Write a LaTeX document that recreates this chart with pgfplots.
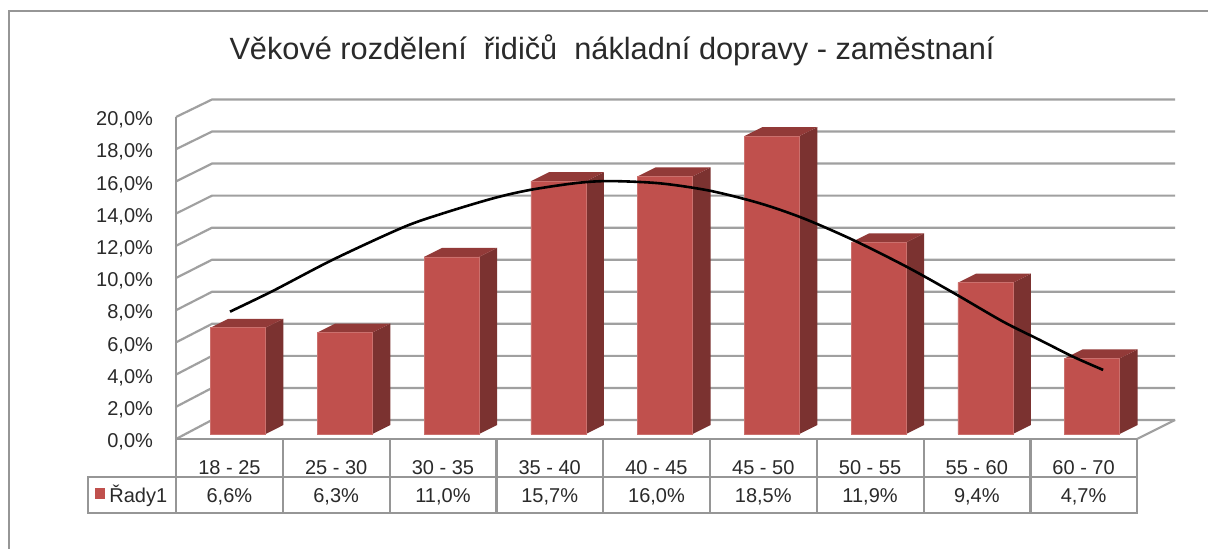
\documentclass[border=0pt]{standalone}
\usepackage{pgfplots}
\usepackage{pgfplotstable}
\usepackage{fontspec}
\setmainfont{Liberation Sans}
\pgfplotsset{compat=1.18}
\definecolor{barfront}{HTML}{C0504D}
\definecolor{barside}{HTML}{7B3230}
\definecolor{bartop}{HTML}{923A38}
\definecolor{gridc}{HTML}{A0A0A0}
\definecolor{framec}{HTML}{969696}
\definecolor{txt}{HTML}{2A2A2A}
\pgfplotstableread{
i v
0 6.6
1 6.3
2 11.0
3 15.7
4 16.0
5 18.5
6 11.9
7 9.4
8 4.7
}\bardata
\pgfplotstableread{
x y
0.006 7.91
0.411 9.21
0.973 11.15
1.628 13.15
2.003 14.02
2.471 14.95
2.815 15.47
3.252 15.90
3.564 16.02
4.032 15.88
4.500 15.42
4.968 14.64
5.374 13.71
5.842 12.36
6.342 10.70
6.778 9.09
7.246 7.29
7.590 6.15
7.902 5.11
8.183 4.29
}\curvedata
\newcommand{\barfaces}[2]{%
  \pgfmathsetmacro{\xl}{#1+0.0805-0.2575}%
  \pgfmathsetmacro{\xr}{#1+0.0805+0.2575}%
  \pgfmathsetmacro{\xrd}{\xr+0.1685}%
  \pgfmathsetmacro{\xld}{\xl+0.1685}%
  \pgfmathsetmacro{\yb}{0.31}%
  \pgfmathsetmacro{\ybd}{0.31+0.559}%
  \pgfmathsetmacro{\yt}{#2+0.31}%
  \pgfmathsetmacro{\ytd}{#2+0.31+0.559}%
  \edef\temp{\noexpand\addplot[fill=barside,draw=none,forget plot] coordinates {(\xr,\yb) (\xrd,\ybd) (\xrd,\ytd) (\xr,\yt)};
    \noexpand\addplot[fill=bartop,draw=none,forget plot] coordinates {(\xl,\yt) (\xr,\yt) (\xrd,\ytd) (\xld,\ytd)};}%
  \temp
}
\begin{document}
\begin{tikzpicture}[x=0.5pt,y=-0.5pt]
\path[use as bounding box,fill=white] (0,0) rectangle (1208,549);
% outer frame
\draw[framec,line width=1.2pt] (9,549) -- (9,11) -- (1208,11);
% walls
\foreach \k in {0,...,10}{
  \pgfmathsetmacro{\ya}{439-32.2*\k}
  \pgfmathsetmacro{\yb}{420-32.05*\k}
  \draw[gridc,line width=1.1pt] (176,\ya) -- (212,\yb) -- (1175,\yb);
}
\draw[gridc,line width=1.1pt] (1175,420) -- (1137,439);
\draw[framec,line width=1.1pt] (176,117) -- (176,513);
% table
\draw[framec,line width=1.1pt] (176,439) -- (1137,439);
\draw[framec,line width=1.1pt] (88,477) rectangle (1137,513);
\foreach \k in {1,...,9}{
  \pgfmathsetmacro{\xa}{176+106.8*\k}
  \draw[framec,line width=1.1pt] (\xa,439) -- (\xa,513);
}
\fill[barfront] (95,488) rectangle (105,499);
\node[txt,anchor=west,inner sep=0pt,font=\fontsize{10}{12}\selectfont] at (109,496) {Řady1};
\node[txt,anchor=center,inner sep=0pt,font=\fontsize{15.36}{18}\selectfont] at (612,50) {Věkové rozdělení \ řidičů \ nákladní dopravy - zaměstnaní};
\begin{axis}[
  at={(88pt,-219.5pt)},anchor=south west,
  x=1pt,y=1pt,
  scale only axis,width=480.5pt,height=161pt,
  x=,y=,
  xmin=-0.5,xmax=8.5,ymin=0,ymax=20,clip=false,
  axis line style={draw=none},tick style={draw=none},
  xtick={0,...,8},
  xticklabels={18 - 25,25 - 30,30 - 35,35 - 40,40 - 45,45 - 50,50 - 55,55 - 60,60 - 70},
  ytick={0,2,...,20},
  yticklabels={{0,0\%},{2,0\%},{4,0\%},{6,0\%},{8,0\%},{10,0\%},{12,0\%},{14,0\%},{16,0\%},{18,0\%},{20,0\%}},
  tick label style={font=\fontsize{10}{12}\selectfont,text=txt},
  yticklabel style={xshift=-8pt,yshift=-1.5pt},
  xticklabel style={yshift=-7pt},
]
\pgfplotstableforeachcolumnelement{v}\of\bardata\as\val{%
  \barfaces{\pgfplotstablerow}{\val}}
\addplot[ybar,bar width=0.515,bar shift=0.0805,fill=barfront,draw=barfront!82!white,line width=0.3pt,yshift=2.5pt,forget plot] table[x=i,y=v]{\bardata};
\addplot[black,line width=1.3pt,smooth,forget plot] table[x=x,y=y]{\curvedata};
\node[txt,font=\fontsize{10}{12}\selectfont] at (axis cs:0,-3.6) {6,6\%};
\node[txt,font=\fontsize{10}{12}\selectfont] at (axis cs:1,-3.6) {6,3\%};
\node[txt,font=\fontsize{10}{12}\selectfont] at (axis cs:2,-3.6) {11,0\%};
\node[txt,font=\fontsize{10}{12}\selectfont] at (axis cs:3,-3.6) {15,7\%};
\node[txt,font=\fontsize{10}{12}\selectfont] at (axis cs:4,-3.6) {16,0\%};
\node[txt,font=\fontsize{10}{12}\selectfont] at (axis cs:5,-3.6) {18,5\%};
\node[txt,font=\fontsize{10}{12}\selectfont] at (axis cs:6,-3.6) {11,9\%};
\node[txt,font=\fontsize{10}{12}\selectfont] at (axis cs:7,-3.6) {9,4\%};
\node[txt,font=\fontsize{10}{12}\selectfont] at (axis cs:8,-3.6) {4,7\%};
\end{axis}
\end{tikzpicture}
\end{document}
